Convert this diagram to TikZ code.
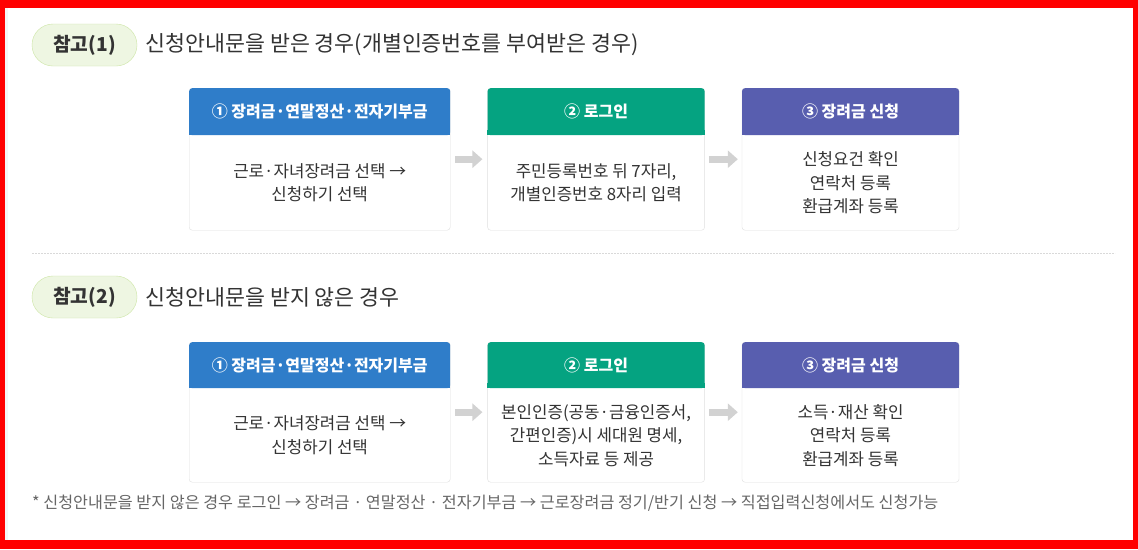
\documentclass[tikz,border=0pt]{standalone}
\usepackage{fontspec}
\setmainfont{Noto Sans CJK KR}
\usepackage{xcolor}
\usepackage{tikz}
\usetikzlibrary{arrows.meta,calc,positioning}
\definecolor{FrameRed}{HTML}{FF0000}
\definecolor{StepBlue}{HTML}{2F7DC9}
\definecolor{StepGreen}{HTML}{05A381}
\definecolor{StepPurple}{HTML}{585EAF}
\definecolor{TagFill}{HTML}{EEF6E2}
\definecolor{TagLine}{HTML}{CDE6A6}
\definecolor{TextGray}{HTML}{333333}
\definecolor{NoteGray}{HTML}{666666}
\tikzset{BOX style/.style={draw=gray!25, fill=white, rounded corners=3pt, minimum height=142pt, inner sep=0pt, anchor=north west},
HEAD style/.style={rounded corners=3pt, minimum height=47pt, inner sep=0pt, anchor=north, text=white, font=\bfseries\fontsize{16}{18}\selectfont},
BODY style/.style={align=center, text=TextGray, font=\fontsize{16.8}{23.5}\selectfont},
TAG style/.style={draw=TagLine, fill=TagFill, rounded corners=21pt, minimum width=105pt, minimum height=42pt, text=TextGray, font=\bfseries\fontsize{19.2}{21}\selectfont},
TITLE style/.style={inner sep=0pt, text=TextGray, font=\fontsize{21.7}{24}\selectfont},
ARR style/.style={line width=7pt, draw=gray!35, -{Triangle[length=10pt, width=17pt]}}}

\begin{document}
\begin{tikzpicture}[x=1pt, y=-1pt]
\useasboundingbox (0,0) rectangle (1138,549);

\fill[FrameRed] (0,0) rectangle (1138,549);
\fill[white] (5,8) rectangle (1133,540);
\fill[gray!8] (5,8) rectangle (8,540);

% case 1
\node[TAG style] (P1) at (84.5,45) {참고(1)};
\node[TITLE style, right=8pt of P1] (S1) {신청안내문을 받은 경우(개별인증번호를 부여받은 경우)};

\node[BOX style, minimum width=261pt] (B1) at (189,88) {};
\node[BOX style, minimum width=217pt, right=37pt of B1] (B2) {};
\node[BOX style, minimum width=217pt, right=37pt of B2] (B3) {};

\node[HEAD style, fill=StepBlue, minimum width=261pt] (H1) at (B1.north) {① 장려금·연말정산·전자기부금};
\node[HEAD style, fill=StepGreen, minimum width=217pt] (H2) at (B2.north) {② 로그인};
\node[HEAD style, fill=StepPurple, minimum width=217pt] (H3) at (B3.north) {③ 장려금 신청};
\fill[StepBlue] ([yshift=5pt]H1.south west) rectangle (H1.south east);
\fill[StepGreen] ([yshift=5pt]H2.south west) rectangle (H2.south east);
\fill[StepPurple] ([yshift=5pt]H3.south west) rectangle (H3.south east);

\node[BODY style] (T1) at ($(H1.south)!0.5!(B1.south)$) {근로·자녀장려금 선택 →\\신청하기 선택};
\node[BODY style] (T2) at ($(H2.south)!0.5!(B2.south)$) {주민등록번호 뒤 7자리,\\개별인증번호 8자리 입력};
\node[BODY style] (T3) at ($(H3.south)!0.5!(B3.south)$) {신청요건 확인\\연락처 등록\\환급계좌 등록};

\draw[ARR style] ([xshift=5pt]B1.east) -- ([xshift=-5pt]B2.west);
\draw[ARR style] ([xshift=4pt]B2.east) -- ([xshift=-4pt]B3.west);

\draw[gray!30, dash pattern=on 2pt off 1pt] (32,253) -- (1115,253);

% case 2
\node[TAG style] (P2) at (84.5,297) {참고(2)};
\node[TITLE style, right=8pt of P2] (S2) {신청안내문을 받지 않은 경우};

\node[BOX style, minimum width=261pt, minimum height=140pt] (B4) at (189,342) {};
\node[BOX style, minimum width=217pt, minimum height=140pt, right=37pt of B4] (B5) {};
\node[BOX style, minimum width=217pt, minimum height=140pt, right=37pt of B5] (B6) {};

\node[HEAD style, fill=StepBlue, minimum width=261pt, minimum height=46pt] (H4) at (B4.north) {① 장려금·연말정산·전자기부금};
\node[HEAD style, fill=StepGreen, minimum width=217pt, minimum height=46pt] (H5) at (B5.north) {② 로그인};
\node[HEAD style, fill=StepPurple, minimum width=217pt, minimum height=46pt] (H6) at (B6.north) {③ 장려금 신청};
\fill[StepBlue] ([yshift=5pt]H4.south west) rectangle (H4.south east);
\fill[StepGreen] ([yshift=5pt]H5.south west) rectangle (H5.south east);
\fill[StepPurple] ([yshift=5pt]H6.south west) rectangle (H6.south east);

\node[BODY style] (T4) at ($(H4.south)!0.5!(B4.south)$) {근로·자녀장려금 선택 →\\신청하기 선택};
\node[BODY style] (T5) at ($(H5.south)!0.5!(B5.south)$) {본인인증(공동·금융인증서,\\간편인증)시 세대원 명세,\\소득자료 등 제공};
\node[BODY style] (T6) at ($(H6.south)!0.5!(B6.south)$) {소득·재산 확인\\연락처 등록\\환급계좌 등록};

\draw[ARR style] ([xshift=5pt]B4.east) -- ([xshift=-5pt]B5.west);
\draw[ARR style] ([xshift=4pt]B5.east) -- ([xshift=-4pt]B6.west);

\node[anchor=west, inner sep=0pt, text=NoteGray, font=\fontsize{16.2}{18}\selectfont] (N1) at (32,503) {* 신청안내문을 받지 않은 경우 로그인 → 장려금 · 연말정산 · 전자기부금 → 근로장려금 정기/반기 신청 → 직접입력신청에서도 신청가능};
\end{tikzpicture}
\end{document}
